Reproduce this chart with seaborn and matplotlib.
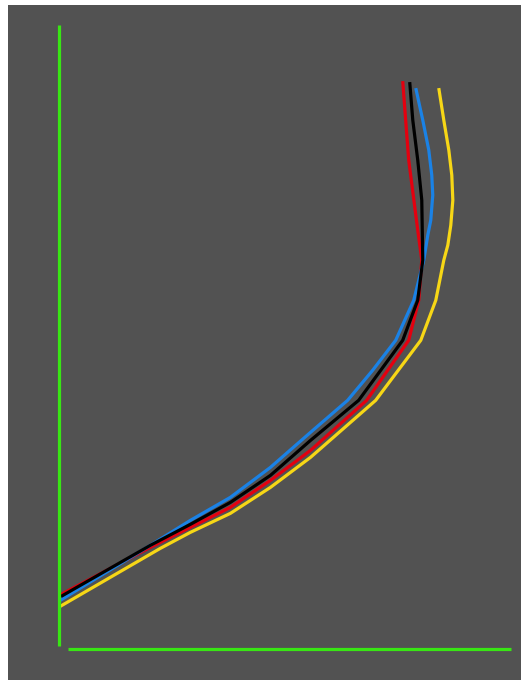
import matplotlib
matplotlib.use("Agg")
import matplotlib.pyplot as plt
import seaborn as sns
import pandas as pd

# Four profile curves (x, y) in axis units 0-100
red_x = [0.44, 20.17, 29.04, 37.91, 46.78, 55.65, 68.06, 72.72, 77.37, 79.59, 80.26, 79.37, 77.37, 76.04]
red_y = [8.67, 16.21, 19.42, 22.63, 26.96, 31.78, 39.80, 44.62, 49.43, 55.85, 62.27, 67.09, 78.32, 91.00]

black_x = [0.44, 20.17, 29.04, 37.91, 46.78, 55.65, 66.29, 71.17, 76.04, 79.37, 80.48, 80.26, 79.37, 78.27, 77.59]
black_y = [8.35, 16.53, 19.90, 23.43, 27.77, 33.38, 39.80, 44.62, 49.43, 55.85, 62.27, 71.90, 78.32, 84.74, 90.84]

blue_x = [0.22, 20.17, 29.04, 37.91, 46.78, 55.65, 63.85, 69.39, 74.49, 78.48, 80.70, 81.59, 82.25, 82.69, 82.47, 81.81, 80.48, 78.93]
blue_y = [7.70, 16.53, 20.54, 24.24, 29.05, 34.67, 39.80, 44.62, 49.43, 55.85, 62.27, 66.29, 68.69, 72.71, 75.92, 79.93, 84.74, 89.88]

yellow_x = [0.22, 22.39, 29.04, 37.91, 46.78, 55.65, 70.06, 73.38, 80.04, 83.36, 85.13, 86.02, 86.68, 87.13, 86.90, 86.24, 85.13, 84.02]
yellow_y = [6.74, 16.05, 18.62, 21.67, 25.84, 30.66, 39.80, 43.01, 49.43, 55.85, 62.27, 64.68, 67.89, 71.90, 75.92, 79.93, 84.74, 89.88]

series = [
    ("red", red_x, red_y, "#e4000f"),
    ("blue", blue_x, blue_y, "#1a82e6"),
    ("yellow", yellow_x, yellow_y, "#f7d716"),
    ("black", black_x, black_y, "#000000"),
]

W, H = 521, 680
fig = plt.figure(figsize=(W / 100, H / 100), dpi=100, facecolor="white")

# grey backdrop panel
bg = fig.add_axes([8 / W, 0, 1 - 8 / W, 1 - 5 / H], zorder=0)
bg.set_axis_off()
bg.add_patch(plt.Rectangle((0, 0), 1, 1, transform=bg.transAxes, facecolor="#525252", edgecolor="none"))

ax = fig.add_axes([59 / W, (H - 648.5) / H, 452 / W, (648.5 - 25) / H], zorder=1)
ax.set_facecolor("none")

for name, xs, ys, col in series:
    df = pd.DataFrame({"x": xs, "y": ys})
    sns.lineplot(data=df, x="x", y="y", sort=False, estimator=None, color=col,
                 linewidth=2.3, ax=ax, solid_capstyle="butt", solid_joinstyle="round")

ax.set_xlim(0, 100)
ax.set_ylim(0, 100)
ax.set_xticks([])
ax.set_yticks([])
ax.set_xlabel("")
ax.set_ylabel("")
for side in ("top", "right"):
    ax.spines[side].set_visible(False)
green = "#38e614"
ax.spines["left"].set_color(green)
ax.spines["left"].set_linewidth(2.3)
ax.spines["left"].set_bounds(0.4, 100)
ax.spines["bottom"].set_color(green)
ax.spines["bottom"].set_linewidth(2.3)
ax.spines["bottom"].set_bounds(2.0, 100)
for s in ("left", "bottom"):
    ax.spines[s].set_capstyle("butt")

fig.savefig("out.png", dpi=100, facecolor=fig.get_facecolor())
